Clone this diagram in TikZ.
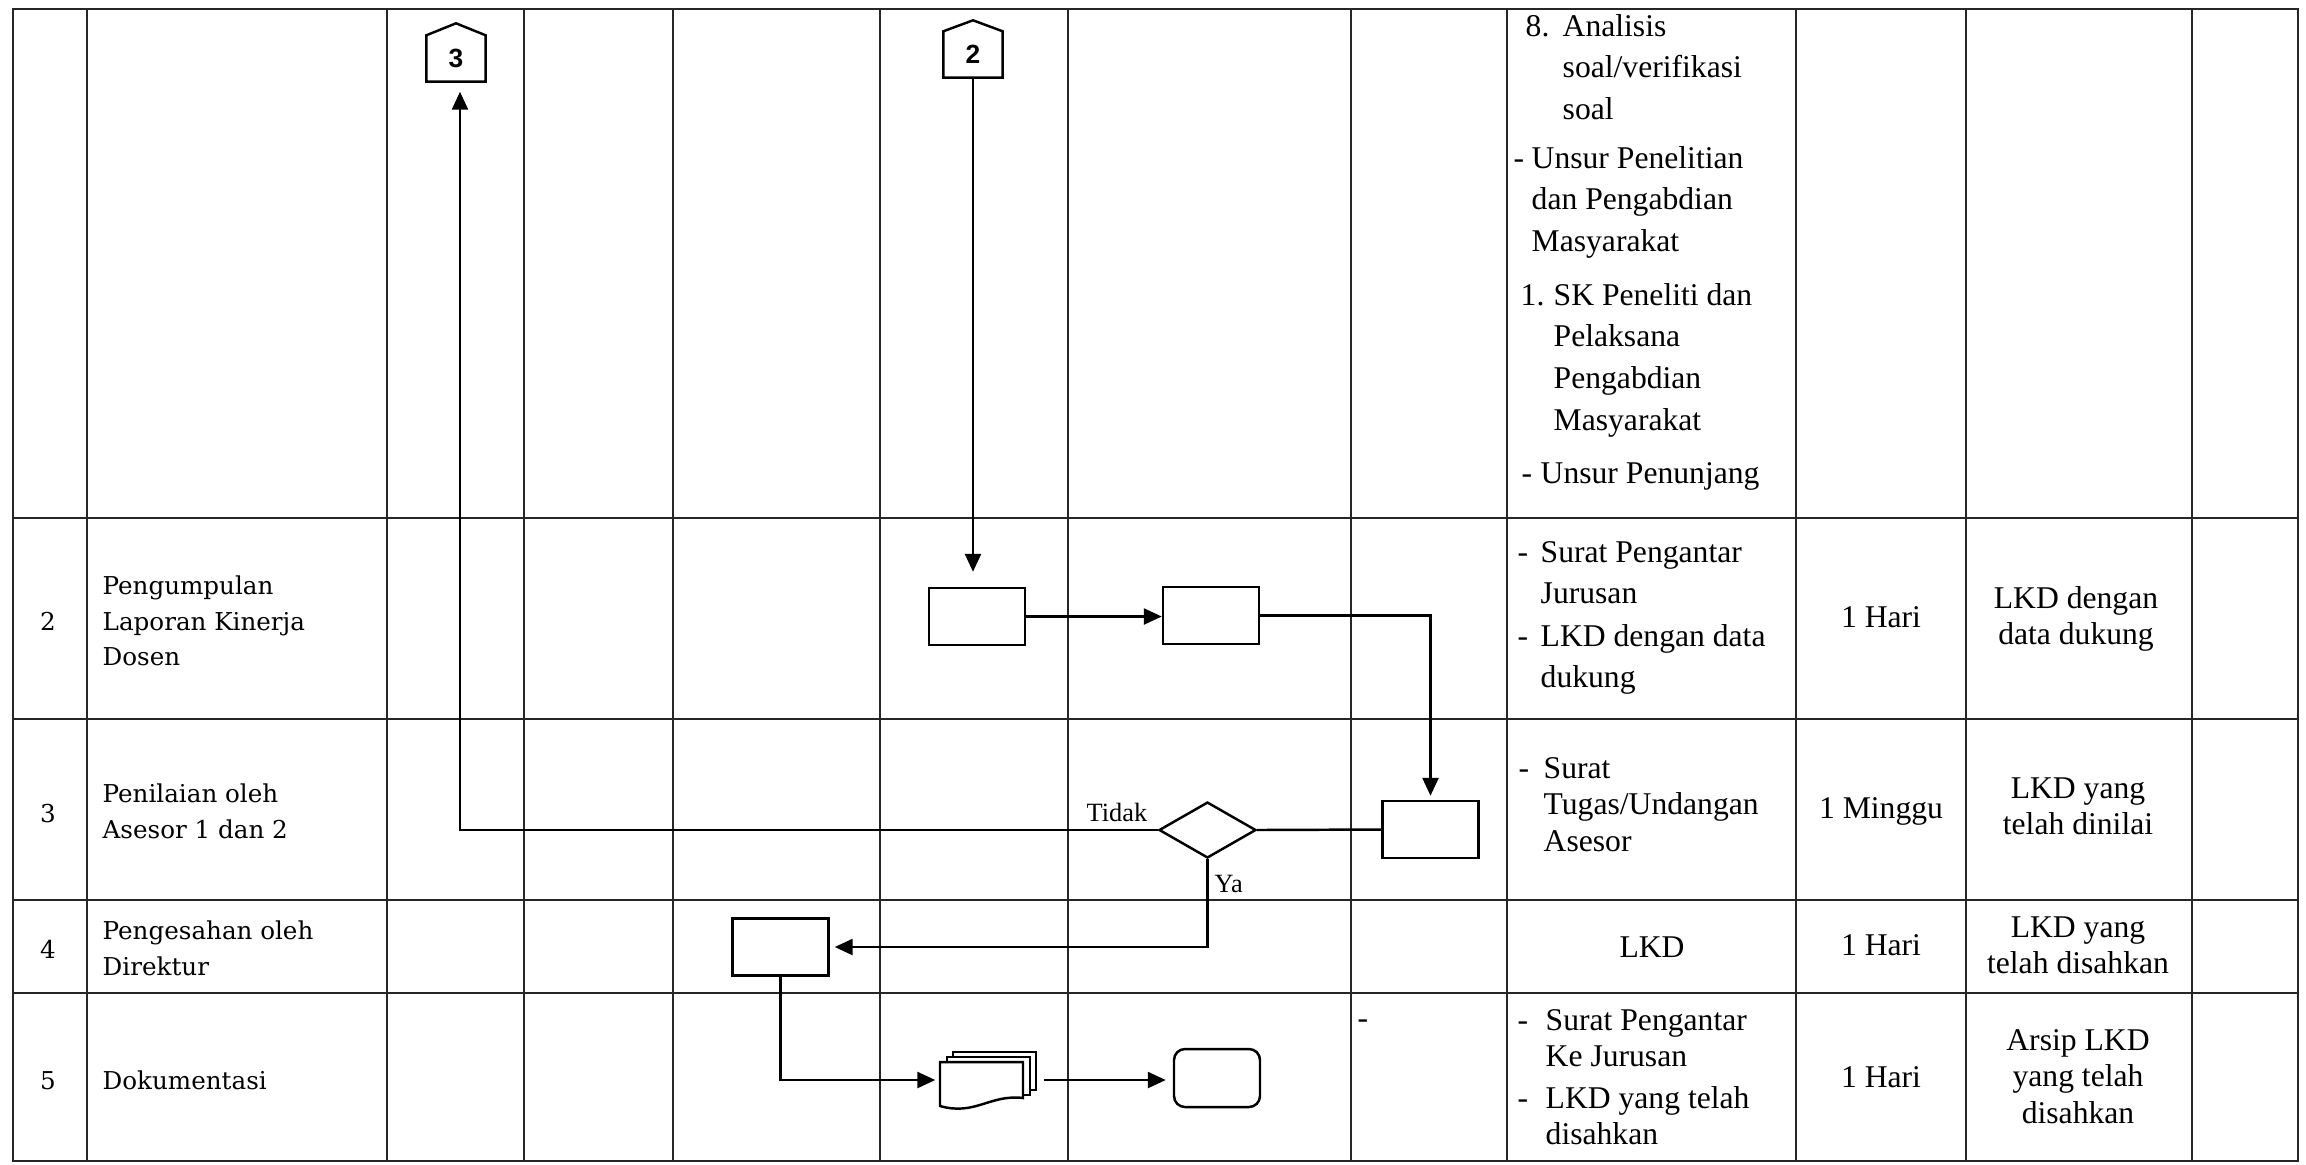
\documentclass[tikz,border=0pt]{standalone}
\usepackage{fontspec}
\setmainfont{Liberation Serif}
\setsansfont{Liberation Sans}
\newfontfamily\gauche{DejaVu Serif}
\usetikzlibrary{shapes.geometric,arrows.meta}
\newcommand{\lignesg}[1]{\begin{tabular}[t]{@{}l@{}}#1\end{tabular}}
\newcommand{\lignesc}[1]{\begin{tabular}[t]{@{}c@{}}#1\end{tabular}}

\begin{document}
\begin{tikzpicture}[x=0.1mm,y=-0.1mm]
% définition des styles
\tikzstyle{grille}=[line width=0.6pt,black!85]
\tikzstyle{boite}=[rectangle,draw,line width=0.7pt,minimum width=9.6mm,minimum height=5.7mm,inner sep=0pt]
\tikzstyle{decision}=[diamond,draw,line width=0.7pt,minimum width=9.7mm,minimum height=5.6mm,inner sep=0pt]
\tikzstyle{fin}=[rectangle,rounded corners=1.1mm,draw,line width=0.7pt,minimum width=8.6mm,minimum height=5.8mm,inner sep=0pt]
\tikzstyle{renvoi}=[rectangle,minimum width=5.8mm,minimum height=4.5mm,inner sep=0pt,font=\sffamily\bfseries\fontsize{7.5}{8}\selectfont]
\tikzstyle{fleche}=[-{Triangle[length=1.8mm,width=1.6mm]},line width=0.7pt]
\tikzstyle{txt}=[inner sep=0pt,anchor=base west,font=\fontsize{9}{11.86}\selectfont]
\tikzstyle{txtserre}=[inner sep=0pt,anchor=base west,font=\fontsize{9}{10.5}\selectfont]
\tikzstyle{txtc}=[inner sep=0pt,anchor=base,font=\fontsize{9}{10.5}\selectfont]
\tikzstyle{etape}=[inner sep=0pt,anchor=base west,font=\gauche\fontsize{7}{10.24}\selectfont]
\tikzstyle{num}=[inner sep=0pt,anchor=base,font=\gauche\fontsize{7}{10.24}\selectfont]
\tikzstyle{petit}=[inner sep=0pt,anchor=base west,font=\fontsize{7.5}{9}\selectfont]
\useasboundingbox (0,0) rectangle (2306,1164);
% le tableau
\draw[grille] (13,9) rectangle (2298,1161);
\foreach \x in {87,387,524,673,880,1068,1351,1507,1796,1966,2192}
  \draw[grille] (\x,9) -- (\x,1161);
\foreach \y in {518,719,900,993}
  \draw[grille] (13,\y) -- (2298,\y);
% les étapes
\node[num] (no2) at (48,630) {2};
\node[etape] (e2) at (102,594) {\lignesg{Pengumpulan\\Laporan Kinerja\\Dosen}};
\node[num] (no3) at (48,822) {3};
\node[etape] (e3) at (102,802) {\lignesg{Penilaian oleh\\Asesor 1 dan 2}};
\node[num] (no4) at (48,958) {4};
\node[etape] (e4) at (102,939) {\lignesg{Pengesahan oleh\\Direktur}};
\node[num] (no5) at (48,1089) {5};
\node[etape] (e5) at (102,1089) {Dokumentasi};
% les kelengkapan
\node[txt] (k8a) at (1525,36) {8.};
\node[txt] (k8b) at (1562,36) {\lignesg{Analisis\\soal/verifikasi\\soal}};
\node[txt] (kpa) at (1513,168) {-};
\node[txt] (kpb) at (1531,168) {\lignesg{Unsur Penelitian\\dan Pengabdian\\Masyarakat}};
\node[txt] (k1a) at (1520,305) {1.};
\node[txt] (k1b) at (1553,305) {\lignesg{SK Peneliti dan\\Pelaksana\\Pengabdian\\Masyarakat}};
\node[txt] (kua) at (1521,483) {-};
\node[txt] (kub) at (1540,483) {Unsur Penunjang};
\node[txt] (k2a) at (1517,562) {-};
\node[txt] (k2b) at (1540,562) {\lignesg{Surat Pengantar\\Jurusan}};
\node[txt] (k2c) at (1517,646) {-};
\node[txt] (k2d) at (1540,646) {\lignesg{LKD dengan data\\dukung}};
\node[txtserre] (k3a) at (1518,778) {-};
\node[txtserre] (k3b) at (1543,778) {\lignesg{Surat\\Tugas/Undangan\\Asesor}};
\node[txtc] (k4) at (1652,957) {LKD};
\node[txtserre] (k5x) at (1357,1028) {-};
\node[txtserre] (k5a) at (1517,1030) {-};
\node[txtserre] (k5b) at (1545,1030) {\lignesg{Surat Pengantar\\Ke Jurusan}};
\node[txtserre] (k5c) at (1517,1108) {-};
\node[txtserre] (k5d) at (1545,1108) {\lignesg{LKD yang telah\\disahkan}};
% les waktu et output
\node[txtc] (w2) at (1881,627) {1 Hari};
\node[txtc] (w3) at (1881,818) {1 Minggu};
\node[txtc] (w4) at (1881,955) {1 Hari};
\node[txtc] (w5) at (1881,1087) {1 Hari};
\node[txtc] (o2) at (2076,608) {\lignesc{LKD dengan\\data dukung}};
\node[txtc] (o3) at (2078,798) {\lignesc{LKD yang\\telah dinilai}};
\node[txtc] (o4) at (2078,937) {\lignesc{LKD yang\\telah disahkan}};
\node[txtc] (o5) at (2078,1050) {\lignesc{Arsip LKD\\yang telah\\disahkan}};
% les nœuds
\node[renvoi] (c3) at (456,58.5) {3};
\draw[line width=0.7pt] (c3.south west) -- (c3.north west) -- ([yshift=1.2mm]c3.north) -- (c3.north east) -- (c3.south east) -- cycle;
\node[renvoi] (c2) at (973,54.5) {2};
\draw[line width=0.7pt] (c2.south west) -- (c2.north west) -- ([yshift=1.1mm]c2.north) -- (c2.north east) -- (c2.south east) -- cycle;
\node[boite] (A) at (977,616.5) {};
\node[boite] (B) at (1211,615.5) {};
\node[boite] (C) at (1430.5,829.5) {};
\node[decision] (dec) at (1207.5,830) {};
\node[boite] (D) at (780.5,947) {};
\node[minimum width=9.6mm,minimum height=5.6mm,inner sep=0pt] (docs) at (988,1080) {};
\filldraw[fill=white,line width=0.7pt] (953,1052) rectangle (1036,1090);
\filldraw[fill=white,line width=0.7pt] (947,1057) rectangle (1030,1095);
\filldraw[fill=white,line width=0.7pt] (940,1062) -- (1023,1062) -- (1023,1098) .. controls (990,1094) and (975,1116) .. (940,1106) -- cycle;
\node[fin] (T) at (1217,1078) {};
\node[petit] (tidak) at (1086,821) {Tidak};
\node[petit] (ya) at (1214,892) {Ya};
% les flèches
\draw[fleche,shorten >=1.5mm] (c2.south) -- (c2.south |- A.north);
\draw[fleche] (A.east) -- (A.east -| B.west);
\draw[fleche,shorten >=0.4mm] (B.east) -| (C.north);
\draw[line width=0.7pt] (C.west) -- (dec.east);
\draw[fleche,shorten >=1mm] (dec.west) -| ([xshift=0.4mm]c3.south);
\draw[fleche,shorten >=0.5mm] (dec.south) |- (D.east);
\draw[fleche,shorten >=0.4mm] (D.south) |- (docs.west);
\draw[fleche,shorten <=0.7mm,shorten >=0.7mm] (docs.east) -- (docs.east -| T.west);
\end{tikzpicture}
\end{document}
